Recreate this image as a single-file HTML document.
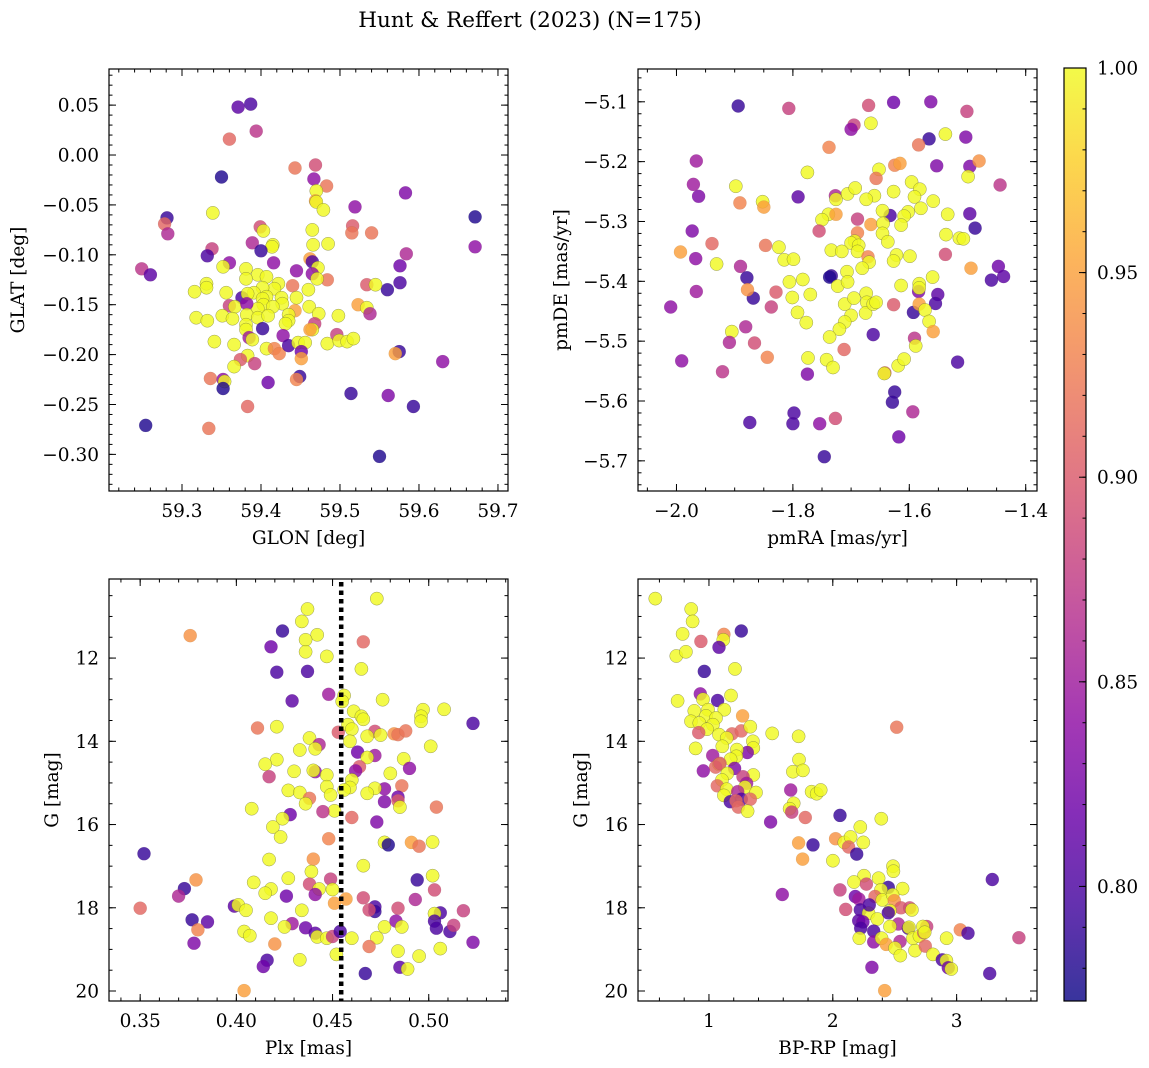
<!DOCTYPE html>
<html><head><meta charset="utf-8"><title>Hunt & Reffert (2023)</title>
<style>
html,body{margin:0;padding:0;background:#fff;}
svg{display:block;font-family:"DejaVu Serif","Liberation Serif",serif;}
</style></head>
<body>
<svg id="fig" width="1149" height="1068" viewBox="0 0 1149 1068" xmlns="http://www.w3.org/2000/svg">
<rect width="1149" height="1068" fill="#fff"/>
<text x="530" y="27" font-size="21.5" text-anchor="middle" fill="#000">Hunt &amp; Reffert (2023) (N=175)</text>
</svg>
<script>
// ---------- Panel 1: GLON vs GLAT ----------
const p1Glon=[59.371,59.387,59.394,59.360,59.443,59.469,59.467,59.483,59.350,59.470,59.469,59.470,59.479,59.583,59.519,59.339,59.671,59.281,59.278,59.282,59.399,59.403,59.516,59.515,59.540,59.465,59.466,59.485,59.415,59.414,59.389,59.400,59.671,59.584,59.338,59.332,59.462,59.465,59.416,59.360,59.352,59.249,59.260,59.381,59.472,59.465,59.445,59.576,59.576,59.560,59.534,59.545,59.484,59.440,59.471,59.396,59.407,59.381,59.331,59.331,59.316,59.356,59.422,59.417,59.402,59.391,59.460,59.445,59.376,59.383,59.407,59.402,59.426,59.427,59.403,59.415,59.396,59.360,59.367,59.382,59.523,59.534,59.538,59.461,59.443,59.435,59.473,59.498,59.318,59.332,59.351,59.364,59.382,59.396,59.409,59.435,59.431,59.468,59.465,59.462,59.381,59.381,59.402,59.385,59.389,59.428,59.496,59.341,59.366,59.407,59.417,59.423,59.435,59.447,59.456,59.451,59.451,59.484,59.499,59.509,59.517,59.575,59.570,59.630,59.383,59.374,59.392,59.366,59.336,59.352,59.354,59.352,59.449,59.445,59.409,59.514,59.561,59.593,59.383,59.254,59.334,59.550];
const p1Glat=[0.048,0.051,0.024,0.016,-0.013,-0.010,-0.024,-0.031,-0.022,-0.036,-0.046,-0.047,-0.055,-0.038,-0.052,-0.058,-0.062,-0.063,-0.069,-0.079,-0.072,-0.076,-0.071,-0.078,-0.078,-0.075,-0.090,-0.089,-0.090,-0.092,-0.088,-0.096,-0.092,-0.099,-0.094,-0.101,-0.104,-0.107,-0.108,-0.108,-0.112,-0.114,-0.120,-0.114,-0.113,-0.119,-0.116,-0.111,-0.128,-0.135,-0.130,-0.130,-0.125,-0.131,-0.124,-0.120,-0.122,-0.124,-0.129,-0.133,-0.137,-0.138,-0.129,-0.134,-0.133,-0.138,-0.135,-0.143,-0.143,-0.139,-0.142,-0.144,-0.143,-0.149,-0.150,-0.152,-0.154,-0.151,-0.152,-0.149,-0.150,-0.153,-0.159,-0.152,-0.156,-0.160,-0.159,-0.161,-0.163,-0.166,-0.161,-0.164,-0.160,-0.163,-0.161,-0.166,-0.169,-0.169,-0.175,-0.175,-0.170,-0.175,-0.174,-0.183,-0.185,-0.181,-0.180,-0.187,-0.190,-0.194,-0.194,-0.199,-0.191,-0.188,-0.188,-0.197,-0.204,-0.189,-0.186,-0.187,-0.184,-0.197,-0.199,-0.207,-0.201,-0.205,-0.209,-0.212,-0.224,-0.225,-0.227,-0.234,-0.222,-0.225,-0.228,-0.239,-0.241,-0.252,-0.252,-0.271,-0.274,-0.302];
const p1Prob=[0.81,0.80,0.87,0.91,0.92,0.89,0.84,0.92,0.78,1,0.95,1,1,0.83,0.84,1,0.78,0.79,0.91,0.86,0.89,1,0.90,0.92,0.92,1,1,1,1,1,0.86,0.79,0.84,0.86,0.88,0.80,0.95,0.80,0.84,0.84,1,0.87,0.81,1,1,0.84,0.84,0.82,0.80,0.79,0.90,1,0.92,0.92,1,1,1,1,1,1,1,1,1,1,1,1,1,1,0.80,1,1,1,1,1,1,1,1,0.88,1,0.84,0.95,1,0.86,1,0.95,1,1,1,1,1,1,1,1,1,1,1,1,0.88,1,0.95,1,1,0.79,0.85,1,0.84,0.88,1,1,1,0.93,0.93,0.80,1,1,0.82,0.95,1,1,1,1,0.79,0.95,0.84,1,0.90,0.88,1,0.92,0.84,1,0.78,0.79,0.93,0.82,0.79,0.83,0.79,0.91,0.78,0.92,0.78];
const p1XTicks=[59.3,59.4,59.5,59.6,59.7];
const p1YTicks=[0.05,0.00,-0.05,-0.10,-0.15,-0.20,-0.25,-0.30];

// ---------- Panel 2: pmRA vs pmDE ----------
const p2PmRA=[-1.894,-1.807,-1.670,-1.627,-1.563,-1.501,-1.695,-1.700,-1.666,-1.538,-1.566,-1.503,-1.738,-1.584,-1.966,-1.625,-1.616,-1.652,-1.553,-1.496,-1.480,-1.775,-1.657,-1.499,-1.971,-1.962,-1.898,-1.444,-1.791,-1.727,-1.726,-1.706,-1.693,-1.596,-1.582,-1.591,-1.627,-1.660,-1.674,-1.559,-1.580,-1.891,-1.852,-1.850,-1.633,-1.646,-1.602,-1.609,-1.614,-1.534,-1.496,-1.487,-1.739,-1.750,-1.726,-1.689,-1.666,-1.645,-1.755,-1.973,-1.939,-1.993,-1.967,-1.931,-1.890,-1.847,-1.824,-1.815,-1.799,-1.689,-1.694,-1.700,-1.687,-1.646,-1.637,-1.537,-1.514,-1.507,-1.734,-1.716,-1.689,-1.671,-1.622,-1.627,-1.599,-1.538,-1.494,-1.447,-1.438,-1.459,-1.669,-1.681,-1.707,-1.734,-1.737,-1.879,-1.806,-1.783,-1.723,-1.706,-1.614,-1.583,-1.560,-1.584,-1.583,-1.551,-1.555,-1.868,-1.878,-1.829,-1.966,-1.801,-1.770,-1.711,-1.695,-1.674,-1.673,-1.675,-1.662,-1.657,-1.627,-1.593,-1.583,-1.573,-2.010,-1.837,-1.792,-1.777,-1.700,-1.711,-1.720,-1.566,-1.559,-1.591,-1.589,-1.905,-1.881,-1.909,-1.866,-1.737,-1.662,-1.712,-1.991,-1.921,-1.844,-1.774,-1.742,-1.731,-1.775,-1.642,-1.643,-1.619,-1.609,-1.517,-1.625,-1.629,-1.798,-1.594,-1.727,-1.874,-1.800,-1.754,-1.618,-1.746];
const p2PmDE=[-5.107,-5.111,-5.106,-5.101,-5.100,-5.116,-5.139,-5.146,-5.136,-5.154,-5.162,-5.159,-5.176,-5.172,-5.199,-5.206,-5.203,-5.213,-5.207,-5.208,-5.199,-5.218,-5.228,-5.225,-5.238,-5.258,-5.241,-5.239,-5.259,-5.257,-5.263,-5.254,-5.244,-5.234,-5.246,-5.259,-5.250,-5.257,-5.263,-5.266,-5.278,-5.269,-5.267,-5.276,-5.290,-5.282,-5.284,-5.291,-5.306,-5.288,-5.287,-5.311,-5.288,-5.297,-5.288,-5.296,-5.305,-5.303,-5.316,-5.316,-5.337,-5.351,-5.362,-5.371,-5.375,-5.340,-5.343,-5.364,-5.363,-5.319,-5.333,-5.336,-5.340,-5.320,-5.334,-5.322,-5.328,-5.329,-5.348,-5.350,-5.350,-5.359,-5.356,-5.366,-5.358,-5.355,-5.378,-5.375,-5.392,-5.398,-5.368,-5.378,-5.384,-5.391,-5.393,-5.394,-5.401,-5.397,-5.408,-5.401,-5.407,-5.404,-5.393,-5.417,-5.411,-5.422,-5.437,-5.428,-5.414,-5.418,-5.417,-5.427,-5.422,-5.438,-5.428,-5.420,-5.435,-5.453,-5.438,-5.435,-5.439,-5.452,-5.438,-5.448,-5.443,-5.443,-5.452,-5.469,-5.457,-5.468,-5.480,-5.467,-5.484,-5.495,-5.508,-5.484,-5.476,-5.502,-5.503,-5.493,-5.489,-5.514,-5.533,-5.551,-5.527,-5.528,-5.531,-5.544,-5.555,-5.553,-5.554,-5.541,-5.530,-5.535,-5.585,-5.602,-5.620,-5.618,-5.629,-5.636,-5.638,-5.638,-5.660,-5.693];
const p2Prob=[0.79,0.88,0.89,0.82,0.83,0.88,0.88,0.84,1,1,0.79,0.83,0.93,0.92,0.85,0.93,0.95,1,0.83,0.83,0.94,1,0.92,1,0.85,0.83,1,0.87,0.81,0.86,1,1,1,1,1,1,1,1,1,1,1,0.93,1,0.95,0.80,1,1,1,1,1,0.81,0.79,1,1,0.95,0.88,0.95,1,0.89,0.83,0.91,0.95,0.84,1,0.86,0.92,1,1,1,0.93,1,1,1,1,1,1,1,1,1,1,1,0.93,1,1,1,0.89,0.95,0.82,0.81,0.80,1,1,1,0.79,0.78,0.79,1,1,1,1,1,1,1,0.83,1,0.81,0.80,0.79,0.94,0.90,0.85,1,1,1,1,1,1,1,1,1,0.90,0.79,0.95,1,0.84,0.88,1,1,1,1,1,1,0.95,0.87,1,1,0.86,0.86,0.89,1,0.80,0.91,0.84,0.87,0.93,1,1,1,0.83,0.91,1,1,1,0.80,0.79,0.79,0.80,0.86,0.89,0.80,0.80,0.84,0.82,0.79];
const p2XTicks=[-2.0,-1.8,-1.6,-1.4];
const p2YTicks=[-5.1,-5.2,-5.3,-5.4,-5.5,-5.6,-5.7];

// ---------- Panel 3: Plx vs G ----------
const p3Plx=[0.473,0.437,0.434,0.424,0.376,0.442,0.436,0.418,0.466,0.436,0.447,0.465,0.421,0.437,0.448,0.456,0.476,0.429,0.455,0.497,0.508,0.461,0.496,0.496,0.465,0.466,0.523,0.411,0.421,0.453,0.458,0.460,0.472,0.475,0.468,0.482,0.484,0.488,0.459,0.438,0.443,0.441,0.433,0.501,0.463,0.472,0.468,0.421,0.415,0.487,0.464,0.462,0.490,0.430,0.441,0.440,0.417,0.447,0.480,0.460,0.459,0.456,0.447,0.477,0.472,0.486,0.427,0.433,0.449,0.468,0.477,0.484,0.484,0.485,0.438,0.436,0.504,0.408,0.451,0.445,0.460,0.428,0.424,0.473,0.419,0.423,0.448,0.477,0.479,0.491,0.495,0.502,0.352,0.440,0.417,0.466,0.439,0.502,0.379,0.409,0.427,0.449,0.438,0.443,0.450,0.494,0.373,0.370,0.418,0.415,0.426,0.441,0.457,0.466,0.503,0.493,0.350,0.399,0.401,0.405,0.434,0.451,0.472,0.472,0.469,0.484,0.518,0.506,0.503,0.503,0.377,0.385,0.418,0.429,0.380,0.404,0.407,0.425,0.436,0.441,0.442,0.447,0.450,0.454,0.460,0.473,0.477,0.483,0.486,0.504,0.511,0.513,0.378,0.420,0.469,0.484,0.506,0.523,0.416,0.414,0.433,0.452,0.495,0.467,0.485,0.489,0.404];
const p3G=[10.57,10.82,11.12,11.35,11.46,11.44,11.56,11.73,11.61,11.85,11.96,12.26,12.34,12.32,12.87,12.90,13.00,13.03,13.04,13.24,13.23,13.28,13.40,13.52,13.40,13.47,13.57,13.68,13.65,13.78,13.60,13.71,13.76,13.85,13.88,13.82,13.84,13.75,14.00,13.92,14.08,14.18,14.21,14.12,14.26,14.34,14.39,14.44,14.55,14.42,14.61,14.71,14.65,14.72,14.73,14.70,14.85,14.81,14.77,14.93,15.11,15.17,15.09,15.14,15.13,15.07,15.18,15.23,15.29,15.25,15.45,15.34,15.43,15.58,15.37,15.50,15.58,15.62,15.67,15.69,15.83,15.76,15.86,15.94,16.06,16.30,16.34,16.43,16.49,16.43,16.52,16.42,16.70,16.83,16.84,16.99,17.13,17.23,17.33,17.39,17.29,17.31,17.43,17.55,17.56,17.33,17.54,17.72,17.55,17.65,17.72,17.68,17.79,17.76,17.57,17.80,18.01,17.96,17.93,18.06,18.06,17.89,17.98,18.09,18.05,18.01,18.07,18.12,18.14,18.32,18.29,18.34,18.25,18.38,18.53,18.57,18.67,18.46,18.48,18.61,18.70,18.73,18.69,18.57,18.73,18.72,18.46,18.32,18.46,18.49,18.57,18.42,18.85,18.87,18.93,19.04,18.98,18.83,19.26,19.41,19.25,19.12,19.16,19.58,19.43,19.47,19.99];
const p3Prob=[1,1,1,0.79,0.94,1,1,0.82,0.91,1,1,1,0.80,0.80,0.85,1,1,0.81,1,1,1,1,1,1,1,1,0.80,0.92,1,0.90,1,1,0.89,1,1,0.94,0.92,0.92,1,1,0.86,1,1,1,0.82,0.85,1,1,1,1,0.90,0.84,0.84,1,0.84,1,0.88,1,1,1,1,1,1,0.84,1,0.92,1,1,1,1,0.83,0.82,0.90,1,0.92,1,0.92,1,1,0.87,0.91,0.82,1,0.83,1,1,0.93,1,0.78,0.95,0.92,1,0.79,0.94,1,1,1,1,0.94,1,1,0.88,0.89,1,1,0.79,0.79,0.86,1,1,0.82,0.84,0.95,0.89,0.89,0.86,0.91,0.81,1,1,1,0.95,0.80,0.79,0.89,0.89,0.88,0.80,1,0.80,0.79,0.81,1,0.85,0.93,1,1,1,0.82,0.81,1,1,0.88,0.80,1,1,1,0.84,1,0.80,0.80,0.88,0.83,0.94,0.92,1,1,0.83,0.80,0.82,1,1,1,0.79,0.81,1,0.95];
const p3XTicks=[0.35,0.40,0.45,0.50];
const p3YTicks=[12,14,16,18,20];
const p3MeanPlx=0.4545;

// ---------- Panel 4: BP-RP vs G ----------
const p4Color=[0.567,0.857,0.868,0.787,1.121,1.116,1.261,0.935,1.081,0.736,0.814,0.962,1.210,0.930,0.952,1.070,1.178,0.747,0.882,0.992,1.124,1.272,0.976,1.057,0.855,0.922,1.032,0.984,0.917,1.081,1.186,1.261,1.334,1.511,1.724,2.516,1.143,1.355,1.358,1.108,0.892,1.310,1.226,1.221,1.030,1.175,1.727,1.081,1.054,1.207,1.089,0.954,1.148,1.358,1.678,1.759,1.275,1.304,1.105,1.291,1.067,1.380,1.143,1.232,1.121,1.261,1.172,1.218,1.334,1.237,1.312,1.660,1.829,1.870,1.902,1.684,1.651,1.668,1.778,1.498,2.058,2.392,2.222,2.023,2.093,2.144,2.246,2.128,1.724,1.840,2.193,1.756,2.001,2.486,2.489,3.288,2.252,2.171,2.271,2.370,2.448,2.389,2.564,2.058,1.592,2.182,2.211,2.341,2.400,2.483,2.497,2.551,2.621,2.639,2.104,2.222,2.289,2.359,2.462,2.295,2.448,2.209,2.243,2.225,2.330,2.330,2.529,2.462,2.610,2.615,2.394,2.214,2.432,2.543,2.502,2.545,2.664,2.647,2.699,2.734,2.758,2.728,2.742,2.747,2.809,2.919,3.030,3.092,3.503,2.884,2.917,2.933,2.957,3.267,2.316,2.419];
const p4G=[10.57,10.82,11.12,11.42,11.43,11.56,11.35,11.60,11.74,11.95,11.85,12.32,12.26,12.86,12.99,13.02,12.90,13.03,13.27,13.24,13.24,13.39,13.39,13.44,13.52,13.56,13.60,13.71,13.79,13.84,13.82,13.75,13.65,13.81,13.88,13.66,13.92,14.00,14.16,14.12,14.17,14.27,14.20,14.36,14.34,14.43,14.44,14.55,14.62,14.65,14.53,14.71,14.77,14.81,14.73,14.70,14.85,15.01,14.93,15.10,15.07,15.23,15.15,15.21,15.30,15.39,15.45,15.43,15.39,15.58,15.68,15.17,15.21,15.26,15.17,15.49,15.62,15.70,15.83,15.94,15.78,15.86,16.06,16.34,16.43,16.30,16.43,16.54,16.44,16.49,16.71,16.83,16.87,17.00,17.12,17.32,17.23,17.38,17.43,17.29,17.51,17.57,17.54,17.57,17.68,17.73,17.79,17.73,17.81,17.69,17.83,18.00,18.00,18.05,18.04,18.05,18.13,18.27,18.07,17.93,18.12,18.31,18.34,18.49,18.56,18.82,18.39,18.45,18.49,18.47,18.73,18.73,18.88,18.81,18.97,19.15,19.03,18.73,18.68,18.60,18.45,18.45,18.59,18.92,19.12,18.73,18.53,18.61,18.72,19.25,19.27,19.44,19.47,19.58,19.43,19.99];
const p4Prob=[1,1,1,1,0.93,1,0.79,0.90,0.81,1,1,0.79,1,0.84,1,0.80,1,1,1,1,1,0.95,1,1,1,1,1,1,0.90,1,0.91,0.91,1,1,1,0.92,1,1,1,1,1,0.83,1,1,0.85,1,1,1,0.91,0.83,0.90,0.84,1,1,1,1,0.88,0.85,1,1,0.91,1,1,0.86,1,0.80,0.80,0.91,0.91,0.91,1,0.85,1,1,1,1,1,0.88,0.91,0.83,0.79,1,1,0.94,1,1,1,0.91,0.95,0.79,0.79,0.95,1,1,1,0.80,1,1,0.89,1,0.79,1,1,0.88,0.84,0.82,0.85,0.91,1,1,0.94,0.90,0.89,1,0.89,0.80,1,1,1,0.80,0.80,0.81,0.82,0.80,0.80,0.84,0.86,1,0.80,1,1,1,0.95,0.86,1,1,1,1,1,0.90,0.88,1,1,0.91,1,1,0.93,0.80,0.88,0.80,1,0.82,1,0.80,0.83,0.95];
const p4XTicks=[1,2,3];
const p4YTicks=[12,14,16,18,20];

// ---------- Colorbar ----------
const cbTicks=[0.80,0.85,0.90,0.95,1.00];
const cbMin=0.772, cbMax=1.0;

const NS="http://www.w3.org/2000/svg";
const svg=document.getElementById('fig');
const FS=18.5;
function mk(tag,attrs,parent){const e=document.createElementNS(NS,tag);for(const k in attrs)e.setAttribute(k,attrs[k]);(parent||svg).appendChild(e);return e;}

const plasmaStops=["#0d0887","#41049d","#6a00a8","#8f0da4","#b12a90","#cc4778","#e16462","#f2844b","#fca636","#fcce25","#f0f921"];
function hex(h){return [parseInt(h.substr(1,2),16),parseInt(h.substr(3,2),16),parseInt(h.substr(5,2),16)];}
function plasma(t){t=Math.max(0,Math.min(1,t));const f=t*10,i=Math.min(9,Math.floor(f)),r=f-i;const a=hex(plasmaStops[i]),b=hex(plasmaStops[i+1]);return "rgb("+a.map((v,k)=>Math.round(v+(b[k]-v)*r)).join(",")+")";}
function cmap(v){return plasma((v-cbMin)/(cbMax-cbMin));}

function fmt(v,d){const s=Math.abs(v).toFixed(d);return (v<0?"\u2212":"")+s;}

function panel(cfg){
  const {name,x0,x1,y0,y1,xmin,xmax,ymin,ymax,invertY,xTicks,yTicks,xMinor,yMinor,xDec,yDec,xs,ys,cs,xlabel,ylabel,ylabelX}=cfg;
  const g=mk('g',{});
  
  
  const sx=v=>x0+(v-xmin)/(xmax-xmin)*(x1-x0);
  const sy=v=>invertY? y0+(v-ymin)/(ymax-ymin)*(y1-y0) : y1-(v-ymin)/(ymax-ymin)*(y1-y0);
  const clipId='clip-'+name;
  const cp=mk('clipPath',{id:clipId},g);mk('rect',{x:x0,y:y0,width:x1-x0,height:y1-y0},cp);
  const pts=mk('g',{'clip-path':'url(#'+clipId+')'},g);
  
  
  for(let i=0;i<xs.length;i++){
    const c=mk('circle',{cx:sx(xs[i]).toFixed(1),cy:sy(ys[i]).toFixed(1),r:6.6,fill:cmap(cs[i]),'fill-opacity':0.82,stroke:'#5a5a3a','stroke-width':0.5,'stroke-opacity':cs[i]>0.97?0.6:0.15},pts);
    
    
  }
  if(cfg.vline!==undefined){
    const l=mk('line',{x1:sx(cfg.vline),x2:sx(cfg.vline),y1:y0+3,y2:y1,stroke:'#000','stroke-width':4.5,'stroke-dasharray':'4.5 4'},g);
    
    
  }
  const ax=mk('g',{stroke:'#000','stroke-width':1},g);
  const lo=Math.min(xmin,xmax),hi=Math.max(xmin,xmax);
  for(let v=Math.ceil(lo/xMinor-1e-6)*xMinor;v<=hi+1e-9;v+=xMinor){const x=sx(v);
    mk('line',{x1:x,x2:x,y1:y1,y2:y1-3.5},ax);mk('line',{x1:x,x2:x,y1:y0,y2:y0+3.5},ax);}
  const ylo=Math.min(ymin,ymax),yhi=Math.max(ymin,ymax);
  for(let v=Math.ceil(ylo/yMinor-1e-6)*yMinor;v<=yhi+1e-9;v+=yMinor){const y=sy(v);
    mk('line',{x1:x0,x2:x0+3.5,y1:y,y2:y},ax);mk('line',{x1:x1,x2:x1-3.5,y1:y,y2:y},ax);}
  xTicks.forEach(v=>{const x=sx(v);
    mk('line',{x1:x,x2:x,y1:y1,y2:y1-7},ax);mk('line',{x1:x,x2:x,y1:y0,y2:y0+7},ax);
    const t=mk('text',{x:x,y:y1+26,'font-size':FS,'text-anchor':'middle',fill:'#000',stroke:'none'},g);t.textContent=fmt(v,xDec);
    
    });
  yTicks.forEach(v=>{const y=sy(v);
    mk('line',{x1:x0,x2:x0+7,y1:y,y2:y},ax);mk('line',{x1:x1,x2:x1-7,y1:y,y2:y},ax);
    const t=mk('text',{x:x0-10,y:y+6.5,'font-size':FS,'text-anchor':'end',fill:'#000',stroke:'none'},g);t.textContent=fmt(v,yDec);
    
    });
  const fr=mk('rect',{x:x0,y:y0,width:x1-x0,height:y1-y0,fill:'none',stroke:'#000','stroke-width':1.2},g);
  
  
  const xl=mk('text',{x:(x0+x1)/2,y:y1+53,'font-size':FS,'text-anchor':'middle',fill:'#000'},g);xl.textContent=xlabel;
  
  
  const yc=(y0+y1)/2;
  const yl=mk('text',{x:ylabelX,y:yc,'font-size':FS,'text-anchor':'middle',fill:'#000',transform:'rotate(-90 '+ylabelX+' '+yc+')'},g);yl.textContent=ylabel;
  
  
}

panel({name:'glon-glat-panel',x0:109,x1:508,y0:69,y1:491,xmin:59.2076,xmax:59.7127,ymin:-0.3367,ymax:0.0862,invertY:false,
  xTicks:p1XTicks,yTicks:p1YTicks,xMinor:0.02,yMinor:0.01,xDec:1,yDec:2,xs:p1Glon,ys:p1Glat,cs:p1Prob,xlabel:'GLON [deg]',ylabel:'GLAT [deg]',ylabelX:24});
panel({name:'proper-motion-panel',x0:638,x1:1037,y0:69,y1:491,xmin:-2.0661,xmax:-1.3806,ymin:-5.7504,ymax:-5.0452,invertY:false,
  xTicks:p2XTicks,yTicks:p2YTicks,xMinor:0.05,yMinor:0.02,xDec:1,yDec:1,xs:p2PmRA,ys:p2PmDE,cs:p2Prob,xlabel:'pmRA [mas/yr]',ylabel:'pmDE [mas/yr]',ylabelX:567});
panel({name:'parallax-panel',x0:109,x1:508,y0:579,y1:1001,xmin:0.3338,xmax:0.5412,ymin:10.10,ymax:20.24,invertY:true,
  xTicks:p3XTicks,yTicks:p3YTicks,xMinor:0.01,yMinor:0.5,xDec:2,yDec:0,xs:p3Plx,ys:p3G,cs:p3Prob,xlabel:'Plx [mas]',ylabel:'G [mag]',ylabelX:58,vline:p3MeanPlx});
panel({name:'cmd-panel',x0:638,x1:1037,y0:579,y1:1001,xmin:0.427,xmax:3.649,ymin:10.10,ymax:20.24,invertY:true,
  xTicks:p4XTicks,yTicks:p4YTicks,xMinor:0.2,yMinor:0.5,xDec:0,yDec:0,xs:p4Color,ys:p4G,cs:p4Prob,xlabel:'BP-RP [mag]',ylabel:'G [mag]',ylabelX:587});

(function(){
  const cx0=1064,cx1=1086,cy0=68,cy1=1001;
  const g=mk('g',{});
  
  
  const defs=mk('defs',{},g);
  const lg=mk('linearGradient',{id:'cbgrad',x1:0,y1:1,x2:0,y2:0},defs);
  for(let i=0;i<=20;i++){mk('stop',{offset:(i/20),'stop-color':plasma(i/20)},lg);}
  mk('rect',{x:cx0,y:cy0,width:cx1-cx0,height:cy1-cy0,fill:'url(#cbgrad)','fill-opacity':0.82},g);
  const sy=v=>cy1-(v-cbMin)/(cbMax-cbMin)*(cy1-cy0);
  for(let v=0.78;v<=1.0001;v+=0.01){const y=sy(v);mk('line',{x1:cx1,x2:cx1-3.5,y1:y,y2:y,stroke:'#000','stroke-width':1},g);}
  cbTicks.forEach(v=>{const y=sy(v);mk('line',{x1:cx1,x2:cx1-7,y1:y,y2:y,stroke:'#000','stroke-width':1},g);
    const t=mk('text',{x:cx1+11,y:y+6.5,'font-size':FS,fill:'#000'},g);t.textContent=v.toFixed(2);
    
    });
  mk('rect',{x:cx0,y:cy0,width:cx1-cx0,height:cy1-cy0,fill:'none',stroke:'#000','stroke-width':1.2},g);
})();
</script>
</body></html>
